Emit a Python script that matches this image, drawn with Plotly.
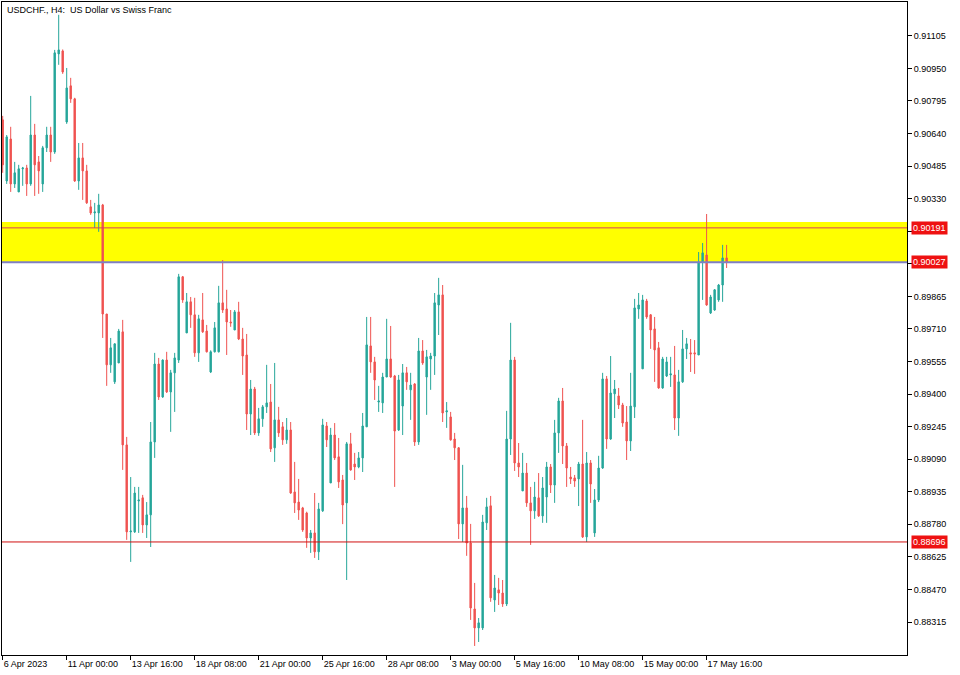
import plotly.graph_objects as go

open_ = [0.90705,0.90414,0.90614,0.90400,0.90362,0.90472,0.90476,0.90400,0.90633,0.90505,
0.90400,0.90572,0.90633,0.90552,0.91019,0.91033,0.90695,0.90867,0.90805,0.90414,
0.90524,0.90462,0.90291,0.90262,0.90262,0.90300,0.89781,0.89539,0.89458,0.89548,
0.89696,0.89158,0.88744,0.88744,0.88891,0.88906,0.88777,0.88825,0.89172,0.89543,
0.89386,0.89562,0.89410,0.89501,0.89562,0.89958,0.89691,0.89839,0.89777,0.89596,
0.89753,0.89700,0.89505,0.89601,0.89601,0.89834,0.89805,0.89743,0.89705,0.89791,
0.89662,0.89586,0.89305,0.89424,0.89215,0.89282,0.89339,0.89362,0.89144,0.89277,
0.89244,0.89182,0.89229,0.88934,0.88886,0.88858,0.88834,0.88715,0.88739,0.88649,
0.88844,0.89248,0.88977,0.89205,0.89101,0.88991,0.88882,0.89163,0.89067,0.89053,
0.89096,0.89244,0.89629,0.89553,0.89362,0.89358,0.89481,0.89567,0.89486,0.89229,
0.89343,0.89501,0.89420,0.89448,0.89172,0.89605,0.89481,0.89567,0.89581,0.89824,
0.89872,0.89315,0.89291,0.89186,0.89144,0.88782,0.88858,0.88691,0.88377,0.88287,
0.88287,0.88787,0.88868,0.88420,0.88468,0.88453,0.88401,0.89186,0.89562,0.89072,
0.88939,0.89024,0.88882,0.88844,0.88906,0.88820,0.88910,0.89053,0.88967,0.89215,
0.89367,0.89153,0.89005,0.89001,0.88996,0.89067,0.88720,0.89072,0.88739,0.88896,
0.89048,0.89472,0.89186,0.89401,0.89391,0.89348,0.89267,0.89177,0.89339,0.89805,
0.89520,0.89843,0.89777,0.89710,0.89620,0.89429,0.89486,0.89491,0.89491,0.89286,
0.89458,0.89615,0.89596,0.89596,0.89586,0.90029,0.90062,0.89786,0.89800,0.89848,
0.89919,0.90048]

high = [0.90724,0.90633,0.90672,0.90505,0.90491,0.90481,0.90491,0.90819,0.90686,0.90533,
0.90581,0.90672,0.90672,0.91038,0.91205,0.91040,0.90952,0.90905,0.90810,0.90595,
0.90595,0.90491,0.90324,0.90310,0.90353,0.90305,0.89781,0.89667,0.89641,0.89710,
0.89753,0.89196,0.89005,0.88958,0.88958,0.88920,0.88886,0.89267,0.89596,0.89572,
0.89565,0.89601,0.89515,0.89596,0.89972,0.89962,0.89881,0.89862,0.89858,0.89777,
0.89881,0.89729,0.89608,0.89743,0.89915,0.90038,0.89896,0.89800,0.89800,0.89839,
0.89715,0.89686,0.89467,0.89434,0.89334,0.89348,0.89539,0.89448,0.89548,0.89339,
0.89267,0.89286,0.89267,0.89077,0.88996,0.88863,0.88840,0.88753,0.88929,0.88882,
0.89282,0.89267,0.89239,0.89262,0.89191,0.89015,0.89172,0.89215,0.89120,0.89124,
0.89310,0.89767,0.89767,0.89577,0.89439,0.89501,0.89758,0.89724,0.89491,0.89491,
0.89543,0.89529,0.89501,0.89452,0.89667,0.89657,0.89610,0.89596,0.89881,0.89953,
0.89919,0.89362,0.89315,0.89215,0.89148,0.89063,0.88915,0.88782,0.88501,0.88334,
0.88825,0.88906,0.88915,0.88539,0.88525,0.88515,0.89320,0.89739,0.89577,0.89167,
0.89120,0.89072,0.88958,0.88982,0.89024,0.89005,0.89077,0.89067,0.89277,0.89382,
0.89429,0.89167,0.89053,0.89015,0.89077,0.89277,0.89124,0.89086,0.88948,0.89106,
0.89501,0.89486,0.89581,0.89467,0.89429,0.89358,0.89343,0.89501,0.89853,0.89881,
0.89872,0.89853,0.89781,0.89767,0.89648,0.89577,0.89577,0.89577,0.89629,0.89515,
0.89705,0.89667,0.89662,0.89657,0.90076,0.90119,0.90257,0.89872,0.89900,0.89924,
0.90110,0.90110]

low = [0.90453,0.90400,0.90362,0.90381,0.90362,0.90391,0.90343,0.90391,0.90343,0.90353,
0.90362,0.90552,0.90505,0.90543,0.90967,0.90924,0.90686,0.90786,0.90410,0.90372,
0.90324,0.90305,0.90253,0.90191,0.90172,0.89667,0.89439,0.89501,0.89448,0.89548,
0.89039,0.88706,0.88601,0.88739,0.88739,0.88739,0.88715,0.88672,0.89096,0.89372,
0.89382,0.89405,0.89220,0.89315,0.89548,0.89834,0.89691,0.89715,0.89577,0.89553,
0.89691,0.89598,0.89500,0.89598,0.89598,0.89786,0.89586,0.89720,0.89705,0.89657,
0.89491,0.89229,0.89205,0.89205,0.89201,0.89244,0.89310,0.89124,0.89077,0.89196,
0.89158,0.89163,0.88925,0.88834,0.88801,0.88744,0.88668,0.88644,0.88620,0.88610,
0.88839,0.89148,0.88977,0.89086,0.88953,0.88781,0.88515,0.89035,0.88991,0.89047,
0.89029,0.89244,0.89501,0.89372,0.89315,0.89310,0.89481,0.89477,0.88958,0.89224,
0.89205,0.89420,0.89277,0.89153,0.89158,0.89539,0.89301,0.89420,0.89491,0.89681,
0.89267,0.89239,0.89178,0.89086,0.88710,0.88696,0.88630,0.88325,0.88201,0.88220,
0.88277,0.88753,0.88411,0.88363,0.88396,0.88387,0.88391,0.89110,0.89034,0.89005,
0.88939,0.88863,0.88682,0.88806,0.88815,0.88787,0.88787,0.88929,0.88882,0.89120,
0.89067,0.88958,0.88972,0.88958,0.88867,0.88715,0.88696,0.88882,0.88720,0.88886,
0.89044,0.89139,0.89182,0.89286,0.89329,0.89244,0.89086,0.89129,0.89286,0.89758,
0.89520,0.89758,0.89615,0.89458,0.89425,0.89425,0.89481,0.89434,0.89229,0.89201,
0.89453,0.89567,0.89505,0.89496,0.89586,0.89848,0.89820,0.89781,0.89796,0.89839,
0.89839,0.90000]

close = [0.90491,0.90624,0.90400,0.90453,0.90472,0.90476,0.90400,0.90633,0.90491,0.90462,
0.90572,0.90633,0.90552,0.91024,0.91038,0.90933,0.90857,0.90805,0.90414,0.90524,
0.90462,0.90310,0.90262,0.90267,0.90300,0.89781,0.89539,0.89620,0.89639,0.89700,
0.89158,0.88744,0.88748,0.88929,0.88896,0.88777,0.88825,0.89172,0.89543,0.89386,
0.89562,0.89410,0.89501,0.89572,0.89958,0.89848,0.89839,0.89777,0.89596,0.89758,
0.89696,0.89601,0.89601,0.89715,0.89834,0.89800,0.89743,0.89739,0.89791,0.89662,
0.89581,0.89305,0.89424,0.89215,0.89282,0.89339,0.89358,0.89139,0.89277,0.89215,
0.89182,0.89229,0.88929,0.88882,0.88848,0.88753,0.88715,0.88739,0.88649,0.88853,
0.89253,0.89182,0.89205,0.89096,0.88982,0.88872,0.89163,0.89039,0.89053,0.89096,
0.89248,0.89634,0.89553,0.89467,0.89367,0.89481,0.89567,0.89481,0.89224,0.89467,
0.89501,0.89458,0.89443,0.89172,0.89605,0.89548,0.89577,0.89581,0.89834,0.89872,
0.89310,0.89320,0.89182,0.89144,0.88782,0.88858,0.88691,0.88382,0.88287,0.88311,
0.88791,0.88863,0.88430,0.88477,0.88453,0.88401,0.89186,0.89562,0.89072,0.89053,
0.89024,0.88882,0.88844,0.88910,0.88820,0.88953,0.89053,0.88967,0.89215,0.89367,
0.89153,0.89048,0.88996,0.88986,0.89067,0.88720,0.89072,0.88972,0.88896,0.89048,
0.89472,0.89186,0.89405,0.89424,0.89348,0.89262,0.89177,0.89343,0.89810,0.89824,
0.89848,0.89767,0.89705,0.89610,0.89429,0.89567,0.89553,0.89496,0.89286,0.89458,
0.89615,0.89639,0.89591,0.89591,0.90029,0.90072,0.89824,0.89862,0.89896,0.89919,
0.90048,0.90029]

x_tick_index = [0, 16, 32, 48, 64, 80, 96, 112, 128, 144, 160, 176]
x_tick_text = ["6 Apr 2023", "11 Apr 00:00", "13 Apr 16:00", "18 Apr 08:00", "21 Apr 00:00",
               "25 Apr 16:00", "28 Apr 08:00", "3 May 00:00", "5 May 16:00", "10 May 08:00",
               "15 May 00:00", "17 May 16:00"]

# tick values; the two hidden under the level boxes carry no label
y_tick_vals = [0.91105, 0.90950, 0.90795, 0.90640, 0.90485, 0.90330, 0.90175, 0.90020,
               0.89865, 0.89710, 0.89555, 0.89400, 0.89245, 0.89090, 0.88935, 0.88780,
               0.88625, 0.88470, 0.88315]
y_tick_text = ["0.91105", "0.90950", "0.90795", "0.90640", "0.90485", "0.90330", "", "",
               "0.89865", "0.89710", "0.89555", "0.89400", "0.89245", "0.89090", "0.88935",
               "0.88780", "0.88625", "0.88470", "0.88315"]

zone_low = 0.90027
zone_high = 0.90219
level_upper = 0.90191
level_lower = 0.90027
support = 0.88696

title_text = "USDCHF., H4:\u00a0 US Dollar vs Swiss Franc"

BULL = "#26A69A"
BEAR = "#EF5350"
FONT = "Liberation Sans, Arial, sans-serif"

xs = list(range(len(open_)))

fig = go.Figure()
fig.add_trace(go.Candlestick(
    x=xs, open=open_, high=high, low=low, close=close,
    increasing=dict(line=dict(color=BULL, width=1), fillcolor=BULL),
    decreasing=dict(line=dict(color=BEAR, width=1), fillcolor=BEAR),
    whiskerwidth=0, showlegend=False, hoverinfo="skip",
))

fig.add_shape(type="rect", xref="paper", yref="y", x0=0, x1=1, y0=zone_low, y1=zone_high,
              fillcolor="#FFFF00", line=dict(width=0), layer="below")
fig.add_shape(type="line", xref="paper", yref="y", x0=0, x1=1, y0=level_upper, y1=level_upper,
              line=dict(color="#D9405F", width=1), layer="above")
fig.add_shape(type="line", xref="paper", yref="y", x0=0, x1=1, y0=level_lower, y1=level_lower,
              line=dict(color="#7F7FC4", width=2), layer="above")
fig.add_shape(type="line", xref="paper", yref="y", x0=0, x1=1, y0=support, y1=support,
              line=dict(color="#D01010", width=1), layer="above")

for lvl in (level_upper, level_lower, support):
    fig.add_annotation(x=1, xref="paper", y=lvl, yref="y", xanchor="left", yanchor="middle",
                       xshift=4, text="%.5f" % lvl, showarrow=False,
                       font=dict(family=FONT, size=9, color="white"),
                       bgcolor="#EE1111", borderpad=1)

fig.add_annotation(x=0, xref="paper", y=1, yref="paper", xanchor="left", yanchor="top",
                   xshift=3, yshift=-1, text=title_text, showarrow=False,
                   font=dict(family=FONT, size=9, color="black"))

fig.update_layout(
    width=960, height=675,
    margin=dict(l=2, r=53, t=2, b=20),
    paper_bgcolor="white", plot_bgcolor="white",
    boxgap=0.5,
    font=dict(family=FONT, size=9, color="black"),
    xaxis=dict(range=[-0.175, 226.1], showgrid=False, zeroline=False,
               showline=True, linecolor="black", linewidth=1, mirror=True,
               ticks="outside", ticklen=4, tickcolor="black",
               tickvals=x_tick_index, ticktext=x_tick_text,
               ticklabelposition="outside right",
               rangeslider=dict(visible=False), fixedrange=True),
    yaxis=dict(range=[0.88158, 0.91266], side="right", showgrid=False, zeroline=False,
               showline=True, linecolor="black", linewidth=1, mirror=True,
               ticks="outside", ticklen=4, tickcolor="black",
               tickvals=y_tick_vals, ticktext=y_tick_text, fixedrange=True),
)

fig.write_html("out.html", config={"displayModeBar": False},
               post_script="document.body.style.margin='0';")
